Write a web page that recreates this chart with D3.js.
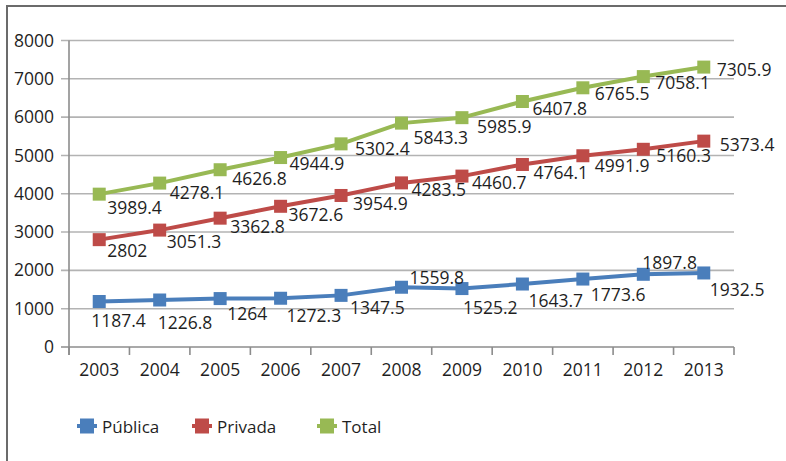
<!DOCTYPE html>
<html>
<head>
<meta charset="utf-8">
<script src="https://cdn.jsdelivr.net/npm/d3@7"></script>
<style>
  html, body { margin: 0; padding: 0; background: #fff; }
  svg { display: block; }
  text { font-family: "Open Sans", sans-serif; fill: #1f1f1f; }
</style>
</head>
<body>
<div id="chart"></div>
<script>
// data
const years = ["2003", "2004", "2005", "2006", "2007", "2008", "2009", "2010", "2011", "2012", "2013"];
const publica = [1187.4, 1226.8, 1264, 1272.3, 1347.5, 1559.8, 1525.2, 1643.7, 1773.6, 1897.8, 1932.5];
const privada = [2802, 3051.3, 3362.8, 3672.6, 3954.9, 4283.5, 4460.7, 4764.1, 4991.9, 5160.3, 5373.4];
const total = [3989.4, 4278.1, 4626.8, 4944.9, 5302.4, 5843.3, 5985.9, 6407.8, 6765.5, 7058.1, 7305.9];
const yTicks = [0, 1000, 2000, 3000, 4000, 5000, 6000, 7000, 8000];
const seriesNames = ["Pública", "Privada", "Total"];

// label nudges relative to each point (dx to text start, dy to text middle)
const labelNudge = {
    "Pública": [[-8, 18], [-2, 22], [7, 14], [6, 17], [9, 12], [8, -10], [1, 18], [6, 16], [8, 15], [-1, -12], [6, 16]],
    "Privada": [[8, 10], [7, 11], [10, 8], [8, 8], [12, 8], [10, 6], [10, 6], [11, 8], [12, 9], [13, 6], [16, 3]],
    "Total":   [[8, 13], [10, 9], [12, 8], [9, 5], [14, 4], [12, 14], [15, 8], [10, 6], [12, 5], [12, 5], [13, 2]]
};

const colors = { "Pública": "#4a7ebb", "Privada": "#be4b48", "Total": "#98b954" };
const values = { "Pública": publica, "Privada": privada, "Total": total };

const W = 786, H = 461;
const svg = d3.select("#chart").append("svg")
    .attr("width", W)
    .attr("height", H);

// outer frame
svg.append("rect")
    .attr("x", 7).attr("y", 6)
    .attr("width", W + 20).attr("height", H + 20)
    .attr("fill", "none")
    .attr("stroke", "#6b6b6b")
    .attr("stroke-width", 2);

const plotLeft = 69, plotRight = 734, plotTop = 40.5, plotBottom = 347;

const x = d3.scaleBand().domain(years).range([plotLeft, plotRight]);
const y = d3.scaleLinear().domain([0, 8000]).range([plotBottom, plotTop]);
const cx = d => x(d) + x.bandwidth() / 2;

// gridlines
svg.append("g")
    .selectAll("line")
    .data(yTicks)
    .join("line")
    .attr("x1", plotLeft - 8).attr("x2", plotRight)
    .attr("y1", d => y(d)).attr("y2", d => y(d))
    .attr("stroke", d => d === 0 ? "#8c8c8c" : "#b3b3b3")
    .attr("stroke-width", 1.6);

// y axis
const yAxis = svg.append("g")
    .attr("transform", `translate(${plotLeft},0)`)
    .call(d3.axisLeft(y).tickValues(yTicks).tickFormat(d3.format("d")).tickSize(0).tickPadding(15))
    .call(g => g.select(".domain").remove());
yAxis.selectAll("text")
    .style("font-size", "17.5px")
    .attr("fill", "#1f1f1f");

svg.append("line")
    .attr("x1", plotLeft).attr("x2", plotLeft)
    .attr("y1", plotTop).attr("y2", plotBottom + 8)
    .attr("stroke", "#8c8c8c")
    .attr("stroke-width", 1.6);

// x axis labels and boundary ticks
const xAxis = svg.append("g")
    .attr("transform", `translate(0,${plotBottom})`)
    .call(d3.axisBottom(x).tickSize(0).tickPadding(17))
    .call(g => g.select(".domain").remove());
xAxis.selectAll("text")
    .style("font-size", "17.5px")
    .attr("fill", "#1f1f1f");

const edges = years.map(d => x(d)).concat([plotRight]);
svg.append("g")
    .selectAll("line")
    .data(edges)
    .join("line")
    .attr("x1", d => d).attr("x2", d => d)
    .attr("y1", plotBottom).attr("y2", plotBottom + 8)
    .attr("stroke", "#8c8c8c")
    .attr("stroke-width", 1.6);

// series
const line = d3.line()
    .x((d, i) => cx(years[i]))
    .y(d => y(d));

seriesNames.forEach(name => {
    const vals = values[name];
    const g = svg.append("g");

    g.append("path")
        .datum(vals)
        .attr("d", line)
        .attr("fill", "none")
        .attr("stroke", colors[name])
        .attr("stroke-width", 4)
        .attr("stroke-linejoin", "round");

    g.selectAll("rect")
        .data(vals)
        .join("rect")
        .attr("x", (d, i) => cx(years[i]) - 6.5)
        .attr("y", d => y(d) - 6.5)
        .attr("width", 13)
        .attr("height", 13)
        .attr("fill", colors[name]);
});

// data labels drawn after all lines
seriesNames.forEach(name => {
    const vals = values[name];
    svg.append("g")
        .selectAll("text")
        .data(vals)
        .join("text")
        .attr("x", (d, i) => cx(years[i]) + labelNudge[name][i][0])
        .attr("y", (d, i) => y(d) + labelNudge[name][i][1])
        .attr("dominant-baseline", "central")
        .style("font-size", "17.5px")
        .text(d => d);
});

// legend
const legendX = [77, 192, 317];
const legend = svg.append("g")
    .selectAll("g")
    .data(seriesNames)
    .join("g")
    .attr("transform", (d, i) => `translate(${legendX[i]},426)`);

legend.append("line")
    .attr("x1", 0).attr("x2", 20)
    .attr("y1", 0).attr("y2", 0)
    .attr("stroke", d => colors[d])
    .attr("stroke-width", 4);

legend.append("rect")
    .attr("x", 3).attr("y", -7.5)
    .attr("width", 14).attr("height", 15)
    .attr("fill", d => colors[d]);

legend.append("text")
    .attr("x", 25)
    .attr("y", 0)
    .attr("dominant-baseline", "central")
    .style("font-size", "17px")
    .text(d => d);
</script>
</body>
</html>
